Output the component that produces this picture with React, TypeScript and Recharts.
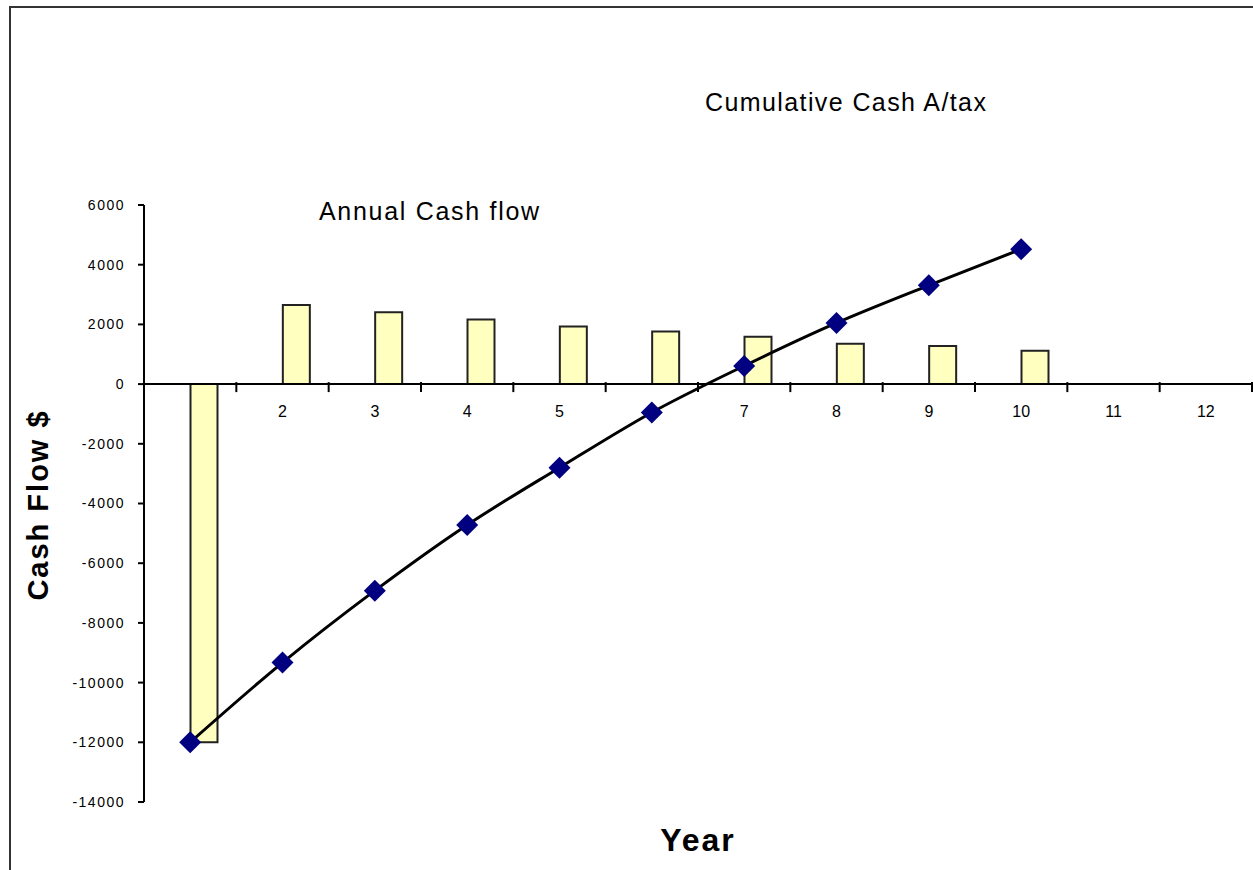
import { ComposedChart, Bar, Line, XAxis, YAxis, ReferenceLine, Rectangle } from 'recharts';

const YEARS = [1, 2, 3, 4, 5, 6, 7, 8, 9, 10, 11, 12];
const ANNUAL_CASH = [-12000, 2650, 2410, 2160, 1930, 1760, 1590, 1350, 1280, 1120, null, null];
const CUMULATIVE_CASH = [-12000, -9330, -6920, -4720, -2800, -950, 610, 2050, 3310, 4520, null, null];
const Y_TICKS = [-14000, -12000, -10000, -8000, -6000, -4000, -2000, 0, 2000, 4000, 6000];

const data = YEARS.map((year, i) => ({
  year,
  annual: ANNUAL_CASH[i],
  cumulative: CUMULATIVE_CASH[i],
}));

const FONT = '"Liberation Sans", Arial, sans-serif';

// category axis drawn along the zero line (Excel style)
function CategoryAxisAtZero(props: any) {
  const vb = props.viewBox;
  if (!vb) return null;
  const band = vb.width / YEARS.length;
  return (
    <g>
      {YEARS.map((year, i) => (
        <g key={year}>
          <line
            x1={vb.x + band * (i + 1)}
            x2={vb.x + band * (i + 1)}
            y1={vb.y - 2}
            y2={vb.y + 8}
            stroke="#000"
            strokeWidth={2}
          />
          {/* label "1" sits behind the first bar in the original */}
          {year !== 1 && (
            <text
              x={vb.x + band * (i + 0.5)}
              y={vb.y + 33}
              textAnchor="middle"
              fontSize={16}
              fontFamily={FONT}
              fill="#000"
            >
              {year}
            </text>
          )}
        </g>
      ))}
    </g>
  );
}

function Diamond(props: any) {
  const { cx, cy, index } = props;
  if (cx == null || cy == null) return null;
  const r = 11;
  return (
    <polygon
      key={index}
      points={`${cx},${cy - r} ${cx + r},${cy} ${cx},${cy + r} ${cx - r},${cy}`}
      fill="#000080"
    />
  );
}

// bars sit just right of the category centre, like a 2-series cluster
function OffsetBar(props: any) {
  const { x, y, width, height } = props;
  return (
    <Rectangle
      x={x + width / 2}
      y={y}
      width={width}
      height={height}
      fill="#FFFFC0"
      stroke="#222"
      strokeWidth={2}
    />
  );
}

export default function App() {
  return (
    <div
      style={{
        position: 'absolute',
        left: 0,
        top: 0,
        width: 1253,
        height: 870,
        overflow: 'hidden',
        background: '#fff',
        fontFamily: FONT,
      }}
    >
      <div
        style={{
          position: 'absolute',
          left: 9,
          top: 6,
          width: 1300,
          height: 900,
          border: '2px solid #333',
        }}
      />
      <ComposedChart
        width={1253}
        height={870}
        data={data}
        margin={{ top: 205, right: 1, left: 84, bottom: 68 }}
        barSize={27}
        style={{ position: 'absolute', left: 0, top: 0 }}
      >
        <XAxis dataKey="year" hide />
        <YAxis
          width={60}
          domain={[-14000, 6000]}
          ticks={Y_TICKS}
          interval={0}
          allowDataOverflow
          axisLine={{ stroke: '#000', strokeWidth: 2 }}
          tickLine={{ stroke: '#000', strokeWidth: 2 }}
          tickSize={6}
          tickMargin={13}
          tick={{ fontSize: 14, fill: '#000', fontFamily: FONT, letterSpacing: 1.5 }}
        />
        <Bar dataKey="annual" shape={<OffsetBar />} isAnimationActive={false} />
        <ReferenceLine
          y={0}
          stroke="#000"
          strokeWidth={2}
          label={<CategoryAxisAtZero />}
        />
        <Line
          dataKey="cumulative"
          type="monotone"
          stroke="#000"
          strokeWidth={3}
          dot={<Diamond />}
          activeDot={false}
          isAnimationActive={false}
        />
      </ComposedChart>

      <div
        style={{
          position: 'absolute',
          left: 705,
          top: 88,
          fontSize: 25,
          letterSpacing: 1.4,
          whiteSpace: 'nowrap',
          color: '#000',
        }}
      >
        Cumulative Cash A/tax
      </div>
      <div
        style={{
          position: 'absolute',
          left: 319,
          top: 197,
          fontSize: 25,
          letterSpacing: 1.7,
          whiteSpace: 'nowrap',
          color: '#000',
        }}
      >
        Annual Cash flow
      </div>
      <div
        style={{
          position: 'absolute',
          left: 38,
          top: 505,
          transform: 'translate(-50%, -50%) rotate(-90deg)',
          fontSize: 29,
          fontWeight: 'bold',
          letterSpacing: 2,
          whiteSpace: 'nowrap',
          color: '#000',
        }}
      >
        Cash Flow $
      </div>
      <div
        style={{
          position: 'absolute',
          left: 698,
          top: 822,
          transform: 'translateX(-50%)',
          fontSize: 32,
          fontWeight: 'bold',
          letterSpacing: 2,
          whiteSpace: 'nowrap',
          color: '#000',
        }}
      >
        Year
      </div>
    </div>
  );
}
